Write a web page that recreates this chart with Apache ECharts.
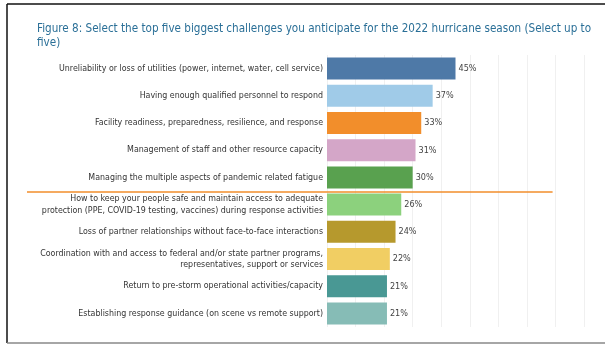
<!DOCTYPE html>
<html>
<head>
<meta charset="utf-8">
<script src="https://cdn.jsdelivr.net/npm/echarts@6/dist/echarts.min.js"></script>
<style>
  html, body { margin: 0; padding: 0; background: #fff; }
  #main { width: 605px; height: 345px; }
</style>
</head>
<body>
<div id="main"></div>
<script>
const categories = [
  'Unreliability or loss of utilities (power, internet, water, cell service)',
  'Having enough qualified personnel to respond',
  'Facility readiness, preparedness, resilience, and response',
  'Management of staff and other resource capacity',
  'Managing the multiple aspects of pandemic related fatigue',
  'How to keep your people safe and maintain access to adequate\nprotection (PPE, COVID-19 testing, vaccines) during response activities',
  'Loss of partner relationships without face-to-face interactions',
  'Coordination with and access to federal and/or state partner programs,\nrepresentatives, support or services',
  'Return to pre-storm operational activities/capacity',
  'Establishing response guidance (on scene vs remote support)'
];
const values = [45, 37, 33, 31, 30, 26, 24, 22, 21, 21];
const barColors = ['#4e79a7', '#a0cbe8', '#f28e2b', '#d4a6c8', '#59a14f',
  '#8cd17d', '#b6992d', '#f1ce63', '#499894', '#86bcb6'];
const topCount = 5;
const separatorEnd = 79;

const font = '"DejaVu Sans Condensed", "Liberation Sans", sans-serif';

let myChart = echarts.init(document.getElementById('main'));
let option = {
  animation: false,
  title: {
    text: 'Figure 8: Select the top five biggest challenges you anticipate for the 2022 hurricane season (Select up to\nfive)',
    left: 32,
    top: 17,
    textStyle: {
      fontFamily: font,
      fontSize: 11.6,
      fontWeight: 'normal',
      color: '#2a6f97',
      lineHeight: 14
    }
  },
  grid: { left: 327, top: 55, width: 257, height: 272, containLabel: false },
  xAxis: {
    type: 'value',
    min: 0,
    max: 90,
    interval: 10,
    axisLabel: { show: false },
    axisLine: { show: false },
    axisTick: { show: false },
    splitLine: { lineStyle: { color: '#f0f0f0', width: 1 } }
  },
  yAxis: {
    type: 'category',
    inverse: true,
    data: categories,
    axisLine: { show: false },
    axisTick: { show: false },
    axisLabel: {
      margin: 4,
      fontFamily: font,
      fontSize: 8.8,
      lineHeight: 11.5,
      color: '#333'
    }
  },
  series: [{
    type: 'bar',
    barCategoryGap: '19%',
    data: values.map(function (v, i) {
      return { value: v, itemStyle: { color: barColors[i] } };
    }),
    label: {
      show: true,
      position: 'right',
      distance: 3,
      formatter: '{c}%',
      fontFamily: font,
      fontSize: 9,
      color: '#444'
    }
  }]
};
myChart.setOption(option);

// separator between the top five and the rest, plus the frame
let y1 = myChart.convertToPixel({ yAxisIndex: 0 }, topCount - 1);
let y2 = myChart.convertToPixel({ yAxisIndex: 0 }, topCount);
let sepY = Math.round((y1 + y2) / 2) + 1;
let sepX = myChart.convertToPixel({ xAxisIndex: 0 }, separatorEnd);
myChart.setOption({
  graphic: [
    { type: 'line', shape: { x1: 27, y1: sepY, x2: sepX, y2: sepY },
      style: { stroke: '#f28e2b', lineWidth: 1.5 } },
    { type: 'line', shape: { x1: 7, y1: 4, x2: 7, y2: 343 },
      style: { stroke: '#111', lineWidth: 1.5 } },
    { type: 'line', shape: { x1: 7, y1: 4, x2: 605, y2: 4 },
      style: { stroke: '#111', lineWidth: 1.5 } },
    { type: 'line', shape: { x1: 7, y1: 343, x2: 605, y2: 343 },
      style: { stroke: '#888', lineWidth: 1.5 } }
  ]
});
</script>
</body>
</html>
